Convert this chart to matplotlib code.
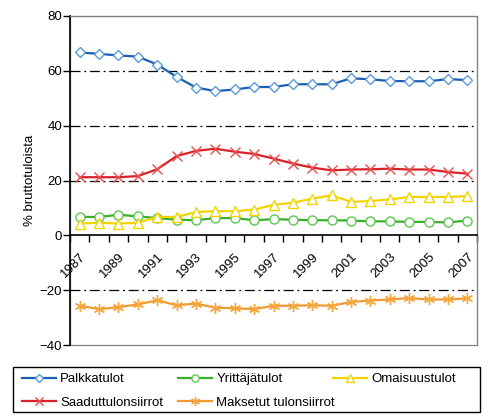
import matplotlib
matplotlib.use("Agg")
import matplotlib.pyplot as plt
from matplotlib.patches import Rectangle

plt.rcParams['font.family'] = ['Liberation Sans', 'DejaVu Sans']
plt.rcParams['font.size'] = 9.5

years = list(range(1987, 2008))
palkka = [66.7, 66.2, 65.6, 65.2, 62.3, 57.8, 53.9, 52.6, 53.2, 54.1, 54.1,
          55.1, 55.1, 55.1, 57.3, 56.9, 56.3, 56.2, 56.2, 57.0, 56.6]
yrittaja = [6.7, 6.7, 7.5, 6.9, 6.3, 5.7, 5.5, 6.3, 6.3, 5.5, 5.9,
            5.7, 5.5, 5.5, 5.4, 5.1, 5.1, 4.9, 4.9, 4.7, 5.4]
omaisuus = [4.3, 4.6, 4.3, 4.6, 6.7, 6.7, 8.5, 8.8, 8.8, 9.4, 11.1,
            11.9, 13.4, 14.6, 12.2, 12.5, 13.1, 14.0, 14.0, 14.0, 14.3]
saadut = [21.2, 21.2, 21.2, 21.6, 24.1, 28.9, 30.8, 31.6, 30.5, 29.7, 28.0,
          26.2, 24.7, 23.7, 24.0, 24.1, 24.3, 24.0, 24.0, 23.1, 22.5]
maksetut = [-25.7, -26.9, -26.2, -25.2, -23.7, -25.5, -24.9, -26.4, -26.6, -26.9, -25.7,
            -25.7, -25.5, -25.7, -24.3, -23.8, -23.4, -22.9, -23.4, -23.4, -23.0]

series = [
    ("Palkkatulot", palkka, '#1a5fb4', '#5b9bd5', 'D', 5),
    ("Yrittäjätulot", yrittaja, '#3cad2c', '#5cc850', 'o', 6.5),
    ("Omaisuustulot", omaisuus, '#f2d400', '#f2d400', '^', 7),
    ("Saaduttulonsiirrot", saadut, '#d92228', '#e85050', 'x', 7),
    ("Maksetut tulonsiirrot", maksetut, '#f09a30', '#f5a840', (6, 2, 0), 8),
]

fig = plt.figure(figsize=(4.93, 4.2), dpi=100)
ax = fig.add_axes([70 / 493, 75 / 420, 407 / 493, 329 / 420])

x = list(range(len(years)))
lines = {}
for name, vals, lc, mc, mk, ms in series:
    ln, = ax.plot(x, vals, color=lc, lw=1.6, marker=mk, markersize=ms,
                  markerfacecolor='white', markeredgecolor=mc, markeredgewidth=1.0,
                  label=name, zorder=3)
    lines[name] = ln

ax.set_xlim(-0.5, len(years) - 0.5)
ax.set_ylim(-40, 80)
ax.set_yticks(range(-40, 81, 20))

for g in [-20, 20, 40, 60]:
    ax.axhline(g, color='black', lw=0.9, ls=(0, (8, 3, 1.5, 3)), zorder=1)

# frame
for s in ['top', 'right']:
    ax.spines[s].set_color('#808080')
ax.spines['left'].set_color('black')
ax.spines['left'].set_linewidth(1.2)
ax.spines['bottom'].set_position(('data', 0))
ax.spines['bottom'].set_color('black')
ax.spines['bottom'].set_linewidth(1.2)
ax.add_patch(Rectangle((0, 0), 1, 1, transform=ax.transAxes, fill=False,
                       edgecolor='#808080', lw=0.9, zorder=0, clip_on=False))

ax.set_xticks([i - 0.5 for i in range(len(years) + 1)], minor=True)
ax.tick_params(axis='x', which='minor', direction='out', length=5, width=1, color='black')
ax.set_xticks(x[::2])
ax.set_xticklabels([str(y) for y in years[::2]], rotation=45, ha='right', va='top',
                   rotation_mode='anchor')
ax.tick_params(axis='x', which='major', length=0, pad=11)
ax.tick_params(axis='y', direction='out', length=5, width=1, pad=0.5)

ax.set_ylabel('% bruttotuloista', labelpad=3)

# legend: fixed column positions, one legend per column, shared frame
fig.add_artist(Rectangle((13 / 493, 8 / 420), 467 / 493, 45 / 420,
                         transform=fig.transFigure, fill=False,
                         edgecolor='black', lw=1.0))
columns = [["Palkkatulot", "Saaduttulonsiirrot"],
           ["Yrittäjätulot", "Maksetut tulonsiirrot"],
           ["Omaisuustulot"]]
col_x = [22, 178, 333]
for names, cx in zip(columns, col_x):
    leg = fig.legend([lines[n] for n in names], names, loc='upper left',
                     bbox_to_anchor=(cx / 493, (420 - 373) / 420),
                     frameon=False, borderaxespad=0, borderpad=0,
                     handlelength=2.6, handletextpad=0.3, labelspacing=0.85,
                     markerscale=0.8)

fig.savefig('out.png', dpi=100)
